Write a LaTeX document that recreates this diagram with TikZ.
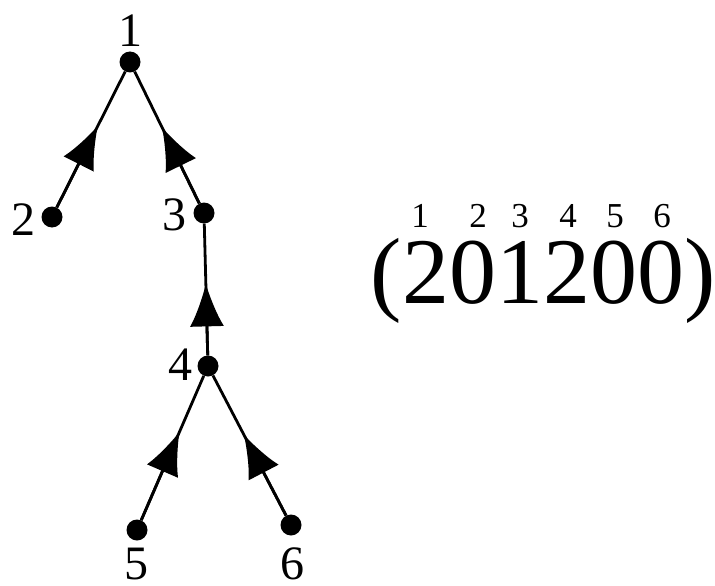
\documentclass[tikz,border=0pt]{standalone}
\usepackage{fontspec}
\setmainfont{Liberation Serif}
\usetikzlibrary{arrows.meta,calc}
\tikzset{
  dot/.style={circle,fill=black,inner sep=0pt,minimum size=21pt},
  lbl/.style={inner sep=0pt,anchor=base,font=\fontsize{48}{48}\selectfont},
  sup/.style={inner sep=0pt,anchor=base,font=\fontsize{35}{35}\selectfont},
  ln/.style={line width=2.8pt},
  arr/.style={line width=2.8pt,-{Latex[length=43pt,width=34pt]}},
}
\begin{document}
\begin{tikzpicture}[x=1pt,y=-1pt]
\useasboundingbox (0,0) rectangle (715,586);
\node[dot] (n1) at (130,62) {};
\node[dot] (n2) at (52,217) {};
\node[dot] (n3) at (204,213) {};
\node[dot] (n4) at (208,366) {};
\node[dot] (n5) at (137,530) {};
\node[dot] (n6) at (291,525) {};
\node[lbl] (l1) at (130,47) {1};
\node[lbl] (l2) at (23,235) {2};
\node[lbl] (l3) at (174,230) {3};
\node[lbl] (l4) at (180,380) {4};
\node[lbl] (l5) at (136,579) {5};
\node[lbl] (l6) at (292,579) {6};
\coordinate (m21) at ($(n2)!0.59!(n1)$);
\coordinate (m31) at ($(n3)!0.57!(n1)$);
\coordinate (m43) at ($(n4)!0.54!(n3)$);
\coordinate (m54) at ($(n5)!0.60!(n4)$);
\coordinate (m64) at ($(n6)!0.57!(n4)$);
\draw[ln] (n2) -- (n1);
\draw[ln] (n3) -- (n1);
\draw[ln] (n4) -- (n3);
\draw[ln] (n5) -- (n4);
\draw[ln] (n6) -- (n4);
\draw[arr] (n2) -- (m21);
\draw[arr] (n3) -- (m31);
\draw[arr] (n4) -- (m43);
\draw[arr] (n5) -- (m54);
\draw[arr] (n6) -- (m64);
\node[inner sep=0pt,anchor=base,font=\fontsize{94}{94}\selectfont] (seq) at (543,303) {(201200)};
\node[sup] (s1) at (420,227) {1};
\node[sup] (s2) at (478,227) {2};
\node[sup] (s3) at (520,227) {3};
\node[sup] (s4) at (568,227) {4};
\node[sup] (s5) at (615,227) {5};
\node[sup] (s6) at (662,227) {6};
\end{tikzpicture}
\end{document}
